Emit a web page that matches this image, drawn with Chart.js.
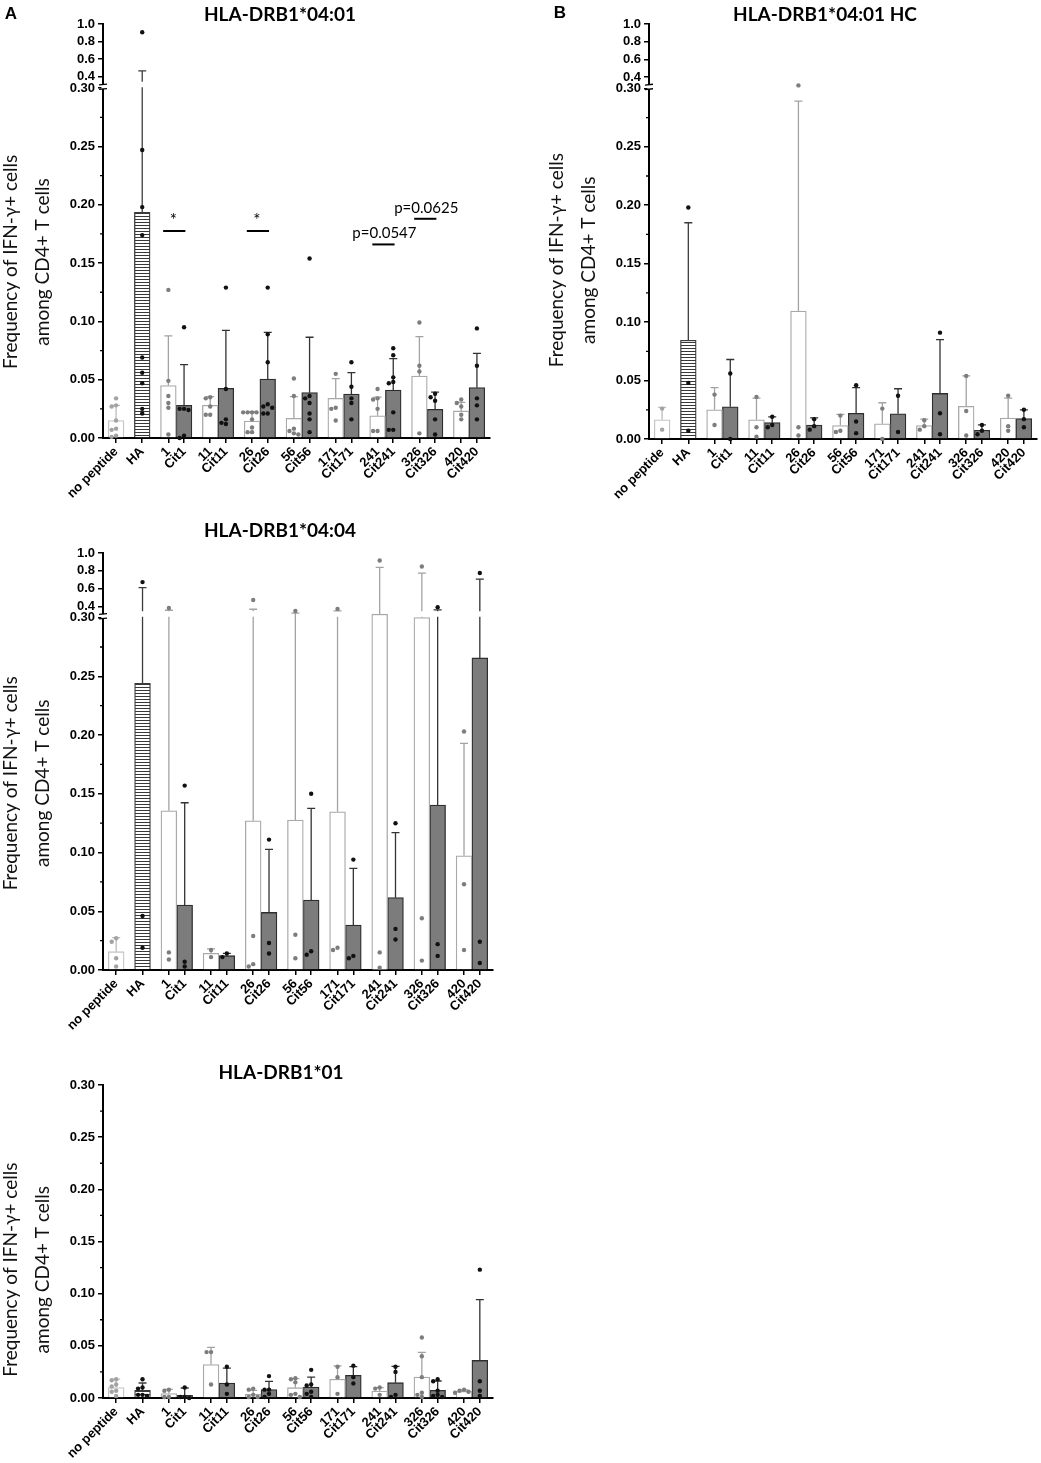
<!DOCTYPE html>
<html>
<head>
<meta charset="utf-8">
<script src="https://cdn.jsdelivr.net/npm/chart.js@4.4.1/dist/chart.umd.min.js"></script>
<style>
  body { margin: 0; background: #fff; width: 1041px; height: 1463px; position: relative; overflow: hidden; }
  canvas { position: absolute; }
  .head { position: absolute; transform: translate(-50%, -50%); white-space: nowrap; font: bold 19px Lato, sans-serif; color: #000; }
  .letter { position: absolute; transform: translate(-50%, -50%); font: bold 17px 'Liberation Sans', Arial, sans-serif; color: #000; }
</style>
</head>
<body>
<canvas id="chartA" width="520" height="520" style="left:0px;top:0px"></canvas>
<canvas id="chartB" width="521" height="520" style="left:520px;top:0px"></canvas>
<canvas id="chartC" width="520" height="540" style="left:0px;top:510px"></canvas>
<canvas id="chartD" width="520" height="423" style="left:0px;top:1040px"></canvas>

<div class="letter" style="left:11px;top:14px">A</div>
<div class="letter" style="left:560px;top:13px">B</div>
<div class="head" style="left:280px;top:13px">HLA-DRB1*04:01</div>
<div class="head" style="left:825px;top:13px">HLA-DRB1*04:01 HC</div>
<div class="head" style="left:280px;top:529px">HLA-DRB1*04:04</div>
<div class="head" style="left:281px;top:1071px">HLA-DRB1*01</div>

<script>
// categories (one bar each)
var labels = ['no peptide', 'HA', '1', 'Cit1', '11', 'Cit11', '26', 'Cit26', '56', 'Cit56',
  '171', 'Cit171', '241', 'Cit241', '326', 'Cit326', '420', 'Cit420'];

// y ticks
var yTicksBroken = [0, 0.05, 0.10, 0.15, 0.20, 0.25, 0.30, 0.4, 0.6, 0.8, 1.0];
var yTicksPlain = [0, 0.05, 0.10, 0.15, 0.20, 0.25, 0.30];
var yMinor = [0.025, 0.075, 0.125, 0.175, 0.225, 0.275];

// HLA-DRB1*04:01
var meanA = [0.015, 0.1935, 0.045, 0.028, 0.028, 0.0426, 0.0146, 0.0506, 0.0169, 0.0389,
  0.034, 0.0377, 0.0191, 0.0412, 0.0532, 0.0246, 0.0232, 0.0432];
var errA = [0.028, 0.469, 0.0875, 0.063, 0.0355, 0.0923, 0.0226, 0.0906, 0.0355, 0.0864,
  0.051, 0.056, 0.035, 0.068, 0.087, 0.0394, 0.0306, 0.0726];
var dotsA = [
  [0.034, 0.028, 0.027, 0.015, 0.008, 0.007, 0.002, 0.001],
  [0.907, 0.247, 0.198, 0.174, 0.069, 0.056, 0.047, 0.025, 0.021],
  [0.127, 0.049, 0.036, 0.030, 0.026, 0.003],
  [0.095, 0.025, 0.024, 0.025, 0.002, 0.000],
  [0.035, 0.034, 0.027, 0.020, 0.020],
  [0.129, 0.042, 0.016, 0.012, 0.013],
  [0.022, 0.022, 0.022, 0.022, 0.016, 0.009, 0.005, 0.005],
  [0.129, 0.089, 0.065, 0.029, 0.027, 0.026, 0.021, 0.021],
  [0.051, 0.036, 0.008, 0.006, 0.004, 0.003],
  [0.154, 0.036, 0.034, 0.030, 0.021, 0.016, 0.005],
  [0.055, 0.026, 0.025, 0.015],
  [0.065, 0.044, 0.034, 0.030, 0.016],
  [0.042, 0.034, 0.033, 0.025, 0.006, 0.006],
  [0.077, 0.071, 0.052, 0.048, 0.047, 0.022, 0.007, 0.007],
  [0.099, 0.062, 0.057, 0.004],
  [0.038, 0.035, 0.032, 0.016, 0.003],
  [0.033, 0.030, 0.027, 0.020, 0.016],
  [0.094, 0.062, 0.034, 0.028, 0.016]
];
// significance marks on panel A (pair index, height, text)
var sigPair = [0, 2, 5, 6];
var sigY = [0.1775, 0.1775, 0.166, 0.188];
var sigText = ['*', '*', 'p=0.0547', 'p=0.0625'];

// HLA-DRB1*04:01 HC
var meanB = [0.0164, 0.0845, 0.025, 0.0276, 0.0164, 0.014, 0.1095, 0.012, 0.0115, 0.022,
  0.013, 0.0215, 0.0115, 0.039, 0.028, 0.0075, 0.018, 0.0175];
var errB = [0.027, 0.185, 0.044, 0.068, 0.035, 0.019, 0.289, 0.018, 0.021, 0.044,
  0.031, 0.043, 0.017, 0.085, 0.054, 0.012, 0.035, 0.025];
var dotsB = [
  [0.026, 0.008], [0.198, 0.048, 0.007], [0.038, 0.012], [0.056, 0.000],
  [0.036, 0.010, 0.002], [0.019, 0.012, 0.010], [0.305, 0.010, 0.003], [0.017, 0.011, 0.008],
  [0.020, 0.007, 0.006], [0.046, 0.015, 0.005], [0.026, 0.000], [0.037, 0.006],
  [0.016, 0.011, 0.008], [0.091, 0.022, 0.004], [0.054, 0.024, 0.003], [0.012, 0.007, 0.004],
  [0.037, 0.011, 0.007], [0.025, 0.017, 0.010]
];

// HLA-DRB1*04:04
var meanC = [0.0156, 0.244, 0.1356, 0.0553, 0.0142, 0.0122, 0.127, 0.049, 0.1277, 0.0596,
  0.1347, 0.0383, 0.311, 0.0616, 0.30, 0.1404, 0.0973, 0.2657];
var errC = [0.0275, 0.61, 0.355, 0.1424, 0.018, 0.0142, 0.366, 0.1027, 0.322, 0.1376,
  0.347, 0.0865, 0.837, 0.1169, 0.774, 0.36, 0.193, 0.706];
var dotsC = [
  [0.027, 0.024, 0.010, 0.003], [0.672, 0.046, 0.019], [0.38, 0.015, 0.009], [0.157, 0.007, 0.003],
  [0.017, 0.011], [0.014, 0.011], [0.471, 0.029, 0.005, 0.003], [0.111, 0.023, 0.014],
  [0.347, 0.030, 0.010], [0.150, 0.016, 0.013], [0.37, 0.019, 0.017], [0.094, 0.012, 0.010],
  [0.916, 0.015, 0.002], [0.125, 0.035, 0.026], [0.848, 0.044, 0.008], [0.39, 0.022, 0.012],
  [0.203, 0.073, 0.017], [0.774, 0.024, 0.006]
];

// HLA-DRB1*01
var meanD = [0.010, 0.0074, 0.0042, 0.0026, 0.032, 0.0144, 0.0036, 0.008, 0.0099, 0.0105,
  0.018, 0.0217, 0.0067, 0.0147, 0.0201, 0.0073, 0.0064, 0.036];
var errD = [0.018, 0.0144, 0.0083, 0.0096, 0.0486, 0.0287, 0.0074, 0.016, 0.0185, 0.020,
  0.0307, 0.030, 0.010, 0.0303, 0.0437, 0.0163, 0.0078, 0.0942];
var dotsD = [
  [0.018, 0.017, 0.013, 0.011, 0.007, 0.006, 0.002], [0.018, 0.010, 0.009, 0.003, 0.003, 0.002],
  [0.008, 0.007, 0.001, 0.001], [0.010, 0.001, 0.001, 0.000],
  [0.044, 0.044, 0.013], [0.030, 0.013, 0.004],
  [0.009, 0.008, 0.003, 0.001, 0.001], [0.021, 0.008, 0.008, 0.004, 0.001],
  [0.019, 0.018, 0.015, 0.004, 0.003, 0.001], [0.027, 0.013, 0.012, 0.006, 0.004, 0.001],
  [0.030, 0.020, 0.004], [0.031, 0.020, 0.014],
  [0.010, 0.009, 0.003], [0.030, 0.025, 0.003, 0.001],
  [0.058, 0.040, 0.020, 0.005, 0.003, 0.001], [0.018, 0.016, 0.007, 0.003, 0.002, 0.001],
  [0.008, 0.007, 0.006, 0.005], [0.123, 0.016, 0.007, 0.002]
];

var yTitleLines = ['Frequency of IFN-\u03b3+ cells', 'among CD4+ T cells'];

Chart.defaults.font.family = "'Liberation Sans', Arial, sans-serif";
Chart.defaults.color = '#000';

// y axis with a break: 0-0.30 in the lower part, 0.30-1.0 squeezed on top
class BrokenScale extends Chart.LinearScale {
  static id = 'broken';
  static defaults = {};
  _seg() {
    var b = this.options.brk;
    var hi = (this.bottom - this.top) * b.topFrac;
    return { b: b, hiEnd: this.top + hi, loTop: this.top + hi + b.gap };
  }
  getPixelForValue(v) {
    var s = this._seg();
    if (v <= s.b.at) return this.bottom - (v - this.min) / (s.b.at - this.min) * (this.bottom - s.loTop);
    return s.hiEnd - (v - s.b.at) / (this.max - s.b.at) * (s.hiEnd - this.top);
  }
  getValueForPixel(p) {
    var s = this._seg();
    if (p >= s.loTop) return this.min + (this.bottom - p) / (this.bottom - s.loTop) * (s.b.at - this.min);
    return s.b.at + (s.hiEnd - p) / (s.hiEnd - this.top) * (this.max - s.b.at);
  }
}
Chart.register(BrokenScale);

function xPos(i) {
  if (i < 2) return i;
  var k = Math.floor((i - 2) / 2);
  return 2 + 1.6 * k + 0.6 * ((i - 2) % 2);
}
function kindOf(i) {
  if (i === 0) return 'none';
  if (i === 1) return 'ha';
  return i % 2 === 0 ? 'nat' : 'cit';
}

function hatchPattern() {
  var c = document.createElement('canvas');
  c.width = 4; c.height = 3;
  var g = c.getContext('2d');
  g.fillStyle = '#fff'; g.fillRect(0, 0, 4, 3);
  g.fillStyle = '#383838'; g.fillRect(0, 0, 4, 1);
  return g.createPattern(c, 'repeat');
}
var hatch = hatchPattern();

var kindStyle = {
  none: { fill: '#ffffff', border: '#c4c4c4', err: '#bcbcbc', dot: '#a3a3a3' },
  ha:   { fill: hatch,     border: '#3c3c3c', err: '#3c3c3c', dot: '#111111' },
  nat:  { fill: '#ffffff', border: '#a9a9a9', err: '#a3a3a3', dot: '#7d7d7d' },
  cit:  { fill: '#7c7c7c', border: '#2e2e2e', err: '#333333', dot: '#111111' }
};

// spread points of one bar sideways like a small beeswarm
function swarm(vals, center) {
  var placed = [];
  var steps = [0, -1, 1, -2, 2, -3, 3];
  return vals.slice().sort(function (a, b) { return b - a; }).map(function (v) {
    var off = 0;
    for (var s = 0; s < steps.length; s++) {
      var dx = steps[s] * 0.17;
      var hit = placed.some(function (p) { return Math.abs(p.y - v) < 0.0036 && Math.abs(p.dx - dx) < 0.15; });
      if (!hit) { off = dx; break; }
    }
    placed.push({ y: v, dx: off });
    return { x: center + off, y: v };
  });
}

function buildDatasets(mean, err, dots) {
  var sets = [];
  ['none', 'ha', 'nat', 'cit'].forEach(function (kind) {
    var idx = labels.map(function (_, i) { return i; }).filter(function (i) { return kindOf(i) === kind; });
    var st = kindStyle[kind];
    sets.push({
      type: 'bar',
      data: idx.map(function (i) { return { x: xPos(i), y: mean[i] }; }),
      errTop: idx.map(function (i) { return err[i]; }),
      errColor: st.err,
      backgroundColor: st.fill,
      borderColor: st.border,
      borderWidth: 1.3,
      borderSkipped: 'bottom',
      grouped: false,
      maxBarThickness: 16,
      categoryPercentage: 1,
      barPercentage: 1,
      order: 2
    });
    sets.push({
      type: 'scatter',
      data: [].concat.apply([], idx.map(function (i) { return swarm(dots[i], xPos(i)); })),
      pointRadius: 2.2,
      pointBorderWidth: 0,
      backgroundColor: st.dot,
      borderColor: st.dot,
      clip: false,
      order: 1
    });
  });
  return sets;
}

function breakPixels(y) {
  var b = y.options.brk;
  if (!b) return null;
  return { lo: y.getPixelForValue(b.at), hi: y.getPixelForValue(b.at + 1e-6) };
}

var errorBars = {
  id: 'errorBars',
  beforeDatasetsDraw: function (chart) {
    var ctx = chart.ctx, y = chart.scales.y;
    var bp = breakPixels(y);
    ctx.save();
    ctx.lineWidth = 1.3;
    chart.data.datasets.forEach(function (ds, di) {
      if (!ds.errTop) return;
      ctx.strokeStyle = ds.errColor;
      chart.getDatasetMeta(di).data.forEach(function (bar, j) {
        var top = y.getPixelForValue(ds.errTop[j]);
        var x = bar.x, by = bar.y;
        ctx.beginPath();
        if (bp && top < bp.hi - 4 && by > bp.lo - 1) {
          ctx.moveTo(x, by); ctx.lineTo(x, bp.lo - 1);
          ctx.moveTo(x, bp.hi - 4); ctx.lineTo(x, top);
        } else {
          ctx.moveTo(x, by); ctx.lineTo(x, top);
        }
        ctx.moveTo(x - 4, top); ctx.lineTo(x + 4, top);
        ctx.stroke();
      });
    });
    ctx.restore();
  }
};

var axisDeco = {
  id: 'axisDeco',
  afterDraw: function (chart) {
    var ctx = chart.ctx, y = chart.scales.y;
    var ax = y.right;
    ctx.save();
    ctx.strokeStyle = '#000';
    ctx.lineWidth = 1.3;
    ctx.beginPath();
    yMinor.forEach(function (v) {
      var py = y.getPixelForValue(v);
      ctx.moveTo(ax - 3, py); ctx.lineTo(ax, py);
    });
    ctx.stroke();
    var bp = breakPixels(y);
    if (bp) {
      ctx.fillStyle = '#fff';
      ctx.fillRect(ax - 1.6, bp.hi - 1, 3.2, bp.lo - bp.hi + 1.6);
      ctx.beginPath();
      ctx.moveTo(ax - 4, bp.hi - 0.8); ctx.lineTo(ax + 4, bp.hi - 1.6);
      ctx.moveTo(ax - 4, bp.lo + 1.2); ctx.lineTo(ax + 4, bp.lo + 0.4);
      ctx.stroke();
    }
    ctx.restore();
  }
};

var yTitle = {
  id: 'yTitle',
  afterDraw: function (chart, args, o) {
    var ctx = chart.ctx, y = chart.scales.y;
    var cy = y.getPixelForValue(o.at);
    ctx.save();
    ctx.font = '19px Lato, sans-serif';
    ctx.fillStyle = '#111';
    ctx.textAlign = 'center';
    ctx.textBaseline = 'middle';
    yTitleLines.forEach(function (t, i) {
      ctx.save();
      ctx.translate(y.right - o.offsets[i], cy);
      ctx.rotate(-Math.PI / 2);
      ctx.fillText(t, 0, 0);
      ctx.restore();
    });
    ctx.restore();
  }
};

var sigMarks = {
  id: 'sigMarks',
  afterDraw: function (chart, args, o) {
    if (!o.show) return;
    var ctx = chart.ctx, x = chart.scales.x, y = chart.scales.y;
    ctx.save();
    ctx.strokeStyle = '#000';
    ctx.fillStyle = '#000';
    ctx.lineWidth = 2;
    ctx.textAlign = 'center';
    ctx.textBaseline = 'middle';
    sigPair.forEach(function (k, i) {
      var x1 = x.getPixelForValue(xPos(2 + 2 * k) - 0.2);
      var x2 = x.getPixelForValue(xPos(3 + 2 * k) + 0.05);
      var py = y.getPixelForValue(sigY[i]);
      ctx.beginPath(); ctx.moveTo(x1, py); ctx.lineTo(x2, py); ctx.stroke();
      if (sigText[i] === '*') {
        ctx.font = '17px Lato, sans-serif';
        ctx.fillText(sigText[i], (x1 + x2) / 2 - 1, py - 11);
      } else {
        ctx.font = '15px Lato, sans-serif';
        ctx.fillText(sigText[i], (x1 + x2) / 2 + 1, py - 11);
      }
    });
    ctx.restore();
  }
};

function makeChart(id, mean, err, dots, opt) {
  return new Chart(document.getElementById(id), {
    type: 'bar',
    data: { datasets: buildDatasets(mean, err, dots) },
    plugins: [errorBars, axisDeco, yTitle, sigMarks],
    options: {
      responsive: false,
      maintainAspectRatio: false,
      animation: false,
      events: [],
      layout: { padding: { top: opt.padTop, right: opt.padRight, left: 0, bottom: 0 } },
      plugins: {
        legend: { display: false },
        tooltip: { enabled: false },
        yTitle: { at: opt.titleAt, offsets: [92, 60] },
        sigMarks: { show: !!opt.sig }
      },
      scales: {
        x: {
          type: 'linear',
          min: -0.5, max: 14.3,
          bounds: 'data',
          offset: false,
          afterBuildTicks: function (s) { s.ticks = labels.map(function (_, i) { return { value: xPos(i) }; }); },
          afterFit: function (s) { s.height = opt.xH; },
          ticks: {
            autoSkip: false, minRotation: 45, maxRotation: 45, padding: 1,
            font: { weight: 'bold', size: 13 }, color: '#000',
            callback: function (v, i) { return labels[i]; }
          },
          grid: { offset: false, drawOnChartArea: false, drawTicks: true, tickLength: 5, color: '#000', lineWidth: 1.5 },
          border: { display: true, color: '#000', width: 2 }
        },
        y: {
          type: opt.broken ? 'broken' : 'linear',
          min: 0, max: opt.broken ? 1.0 : 0.30,
          bounds: 'data',
          brk: opt.broken ? { at: 0.3, topFrac: 0.149, gap: 2.5 } : null,
          afterBuildTicks: function (s) {
            s.ticks = (opt.broken ? yTicksBroken : yTicksPlain).map(function (v) { return { value: v }; });
          },
          afterFit: function (s) { s.width = opt.yW; },
          ticks: {
            autoSkip: false, padding: 3,
            font: { weight: 'bold', size: 13 }, color: '#000',
            callback: function (v) { return v <= 0.3 + 1e-9 ? v.toFixed(2) : v.toFixed(1); }
          },
          grid: { drawOnChartArea: false, drawTicks: true, tickLength: 5, color: '#000', lineWidth: 1.5 },
          border: { display: true, color: '#000', width: 2 }
        }
      }
    }
  });
}

makeChart('chartA', meanA, errA, dotsA, { broken: true, yW: 103, xH: 82, padTop: 24, padRight: 30, titleAt: 0.151, sig: true });
makeChart('chartB', meanB, errB, dotsB, { broken: true, yW: 129, xH: 81, padTop: 24, padRight: 3, titleAt: 0.153 });
makeChart('chartC', meanC, errC, dotsC, { broken: true, yW: 103, xH: 80, padTop: 43, padRight: 27, titleAt: 0.159 });
makeChart('chartD', meanD, errD, dotsD, { broken: false, yW: 103, xH: 65, padTop: 45, padRight: 27, titleAt: 0.123 });
</script>
</body>
</html>
